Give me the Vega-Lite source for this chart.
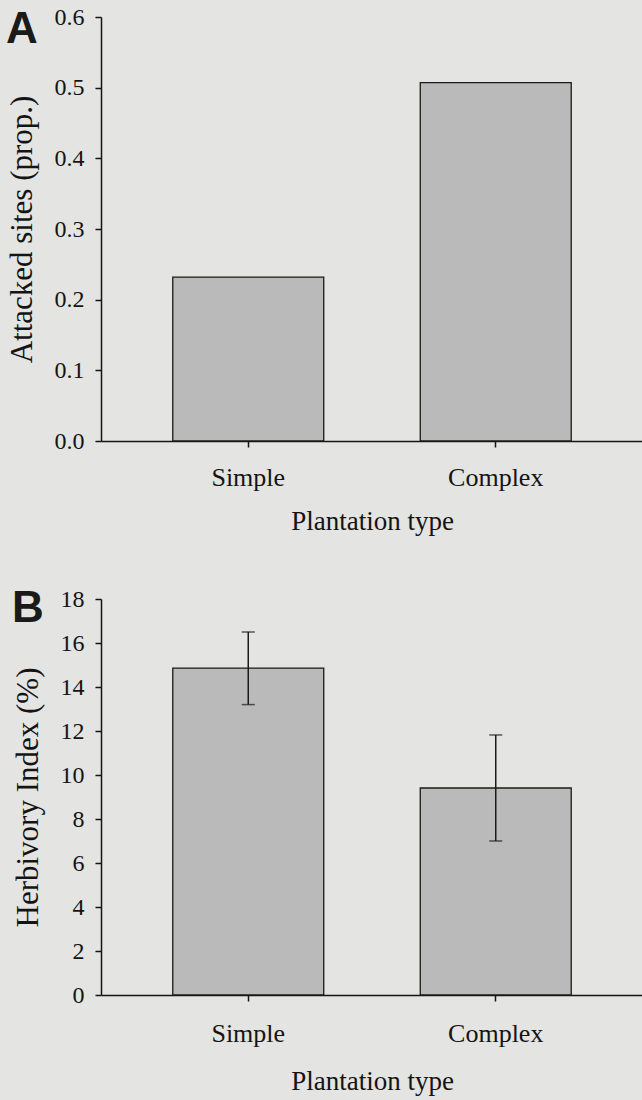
{
  "$schema": "https://vega.github.io/schema/vega-lite/v6.json",
  "background": "#e4e4e2",
  "padding": {"left": 6, "top": 5, "right": 0, "bottom": 6},
  "spacing": 53,
  "config": {
    "view": {"stroke": null},
    "font": "Liberation Serif",
    "axis": {
      "grid": false,
      "labelFont": "Liberation Serif",
      "titleFont": "Liberation Serif",
      "titleFontWeight": "normal",
      "labelColor": "#141414",
      "titleColor": "#141414",
      "domainColor": "#141414",
      "tickColor": "#141414",
      "domainWidth": 1.5,
      "tickWidth": 1.5,
      "tickSize": 6
    },
    "axisY": {"labelPadding": 11, "titlePadding": 16, "labelFontSize": 24, "titleFontSize": 31},
    "axisX": {"labelPadding": 17, "titlePadding": 18, "labelAngle": 0, "labelFontSize": 26, "titleFontSize": 27},
    "title": {
      "font": "Liberation Sans",
      "fontWeight": "bold",
      "fontSize": 44,
      "anchor": "start",
      "frame": "bounds",
      "baseline": "top",
      "color": "#1a1a1a"
    }
  },
  "datasets": {
    "attacked": [
      {"type": "Simple", "value": 0.232},
      {"type": "Complex", "value": 0.507}
    ],
    "herbivory": [
      {"type": "Simple", "value": 14.86, "lo": 13.2, "hi": 16.5},
      {"type": "Complex", "value": 9.41, "lo": 7.0, "hi": 11.82}
    ]
  },
  "vconcat": [
    {
      "title": {"text": "A", "offset": -47},
      "width": 542,
      "height": 424,
      "data": {"name": "attacked"},
      "mark": {"type": "bar", "fill": "#bababa", "stroke": "#1a1a1a", "strokeWidth": 1.3},
      "encoding": {
        "x": {
          "field": "type",
          "type": "nominal",
          "sort": ["Simple", "Complex"],
          "scale": {"paddingInner": 0.39, "paddingOuter": 0.29},
          "axis": {"title": "Plantation type"}
        },
        "y": {
          "field": "value",
          "type": "quantitative",
          "scale": {"domain": [0, 0.6], "nice": false},
          "axis": {"title": "Attacked sites (prop.)", "values": [0, 0.1, 0.2, 0.3, 0.4, 0.5, 0.6], "format": ".1f"}
        }
      }
    },
    {
      "title": {"text": "B", "offset": -44},
      "width": 542,
      "height": 396,
      "data": {"name": "herbivory"},
      "encoding": {
        "x": {
          "field": "type",
          "type": "nominal",
          "sort": ["Simple", "Complex"],
          "scale": {"paddingInner": 0.39, "paddingOuter": 0.29},
          "axis": {"title": "Plantation type", "labelPadding": 19, "titlePadding": 22}
        }
      },
      "layer": [
        {
          "mark": {"type": "bar", "fill": "#bababa", "stroke": "#1a1a1a", "strokeWidth": 1.3},
          "encoding": {
            "y": {
              "field": "value",
              "type": "quantitative",
              "scale": {"domain": [0, 18], "nice": false},
              "axis": {"title": "Herbivory Index (%)", "values": [0, 2, 4, 6, 8, 10, 12, 14, 16, 18]}
            }
          }
        },
        {
          "mark": {"type": "rule", "color": "#1a1a1a", "strokeWidth": 1.5},
          "encoding": {
            "y": {"field": "lo", "type": "quantitative"},
            "y2": {"field": "hi"}
          }
        },
        {
          "mark": {"type": "tick", "color": "#1a1a1a", "thickness": 1.5, "size": 13},
          "encoding": {"y": {"field": "lo", "type": "quantitative"}}
        },
        {
          "mark": {"type": "tick", "color": "#1a1a1a", "thickness": 1.5, "size": 13},
          "encoding": {"y": {"field": "hi", "type": "quantitative"}}
        }
      ]
    }
  ]
}
